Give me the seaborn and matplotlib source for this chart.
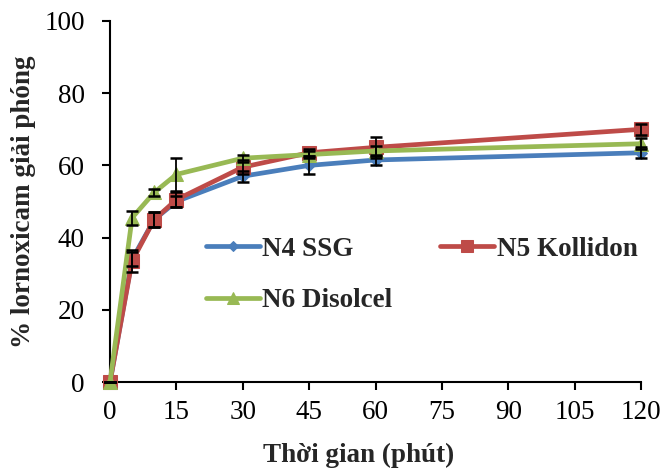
import numpy as np
import pandas as pd
import seaborn as sns
import matplotlib
matplotlib.use("Agg")
import matplotlib.pyplot as plt

sns.set_style("ticks")
plt.rcParams["font.family"] = ["Liberation Serif", "DejaVu Serif"]

time_min = [0, 5, 10, 15, 30, 45, 60, 120]
n4_ssg = [0, 34, 45, 50, 57, 60, 61.5, 63.5]
n4_err = [0, 2, 2, 1.5, 1.5, 2.5, 1.5, 1.5]
n5_kollidon = [0, 33.5, 45, 50.5, 59.5, 63.5, 65, 70]
n5_err = [0, 3, 2, 2, 2, 1, 3, 1.5]
n6_disolcel = [0, 45.5, 52.5, 57.5, 62, 63, 64, 66]
n6_err = [0, 2, 1, 4.5, 1, 1, 1.5, 1.5]

series = ["N4 SSG", "N5 Kollidon", "N6 Disolcel"]
colors = ["#4A7EBB", "#BE4B48", "#98B954"]
markers = ["D", "s", "^"]
msizes = [6, 10, 10]

data = pd.DataFrame({
    "time": time_min * 3,
    "value": n4_ssg + n5_kollidon + n6_disolcel,
    "err": n4_err + n5_err + n6_err,
    "series": [s for s in series for _ in time_min],
})

fs = 19.5
fig = plt.figure(figsize=(6.63, 4.69), dpi=100)
ax = fig.add_axes([110 / 663, 1 - 382 / 469, 531 / 663, 361 / 469])

for name, c, m, ms in zip(series, colors, markers, msizes):
    d = data[data["series"] == name]
    sns.lineplot(x="time", y="value", data=d, ax=ax, color=c, marker=m,
                 markersize=ms, markeredgecolor=c, linewidth=3.4,
                 clip_on=False, zorder=3, label=name)
    ax.errorbar(d["time"], d["value"], yerr=d["err"], fmt="none",
                ecolor="black", elinewidth=1.3, capsize=4, capthick=1.8,
                zorder=4, clip_on=False)

ax.set_xlim(0, 120)
ax.set_ylim(0, 100)
ax.set_xticks(np.arange(0, 121, 15))
ax.set_yticks(np.arange(0, 101, 20))
ax.tick_params(axis="both", labelsize=fs, length=6, width=1.5, color="black",
               labelcolor="black", direction="out")
ax.tick_params(axis="x", pad=7)
ax.tick_params(axis="y", pad=12)
for s in ["top", "right"]:
    ax.spines[s].set_visible(False)
for s in ["left", "bottom"]:
    ax.spines[s].set_linewidth(1.5)
    ax.spines[s].set_color("black")

ax.set_xlabel("Thời gian (phút)", fontsize=fs, fontweight="bold")
ax.set_ylabel("% lornoxicam giải phóng", fontsize=fs, fontweight="bold")
ax.xaxis.set_label_coords(0.469, -0.168)
ax.yaxis.set_label_coords(-0.14, 0.5)

h, l = ax.get_legend_handles_labels()
order = [0, 2, 1]
leg = ax.legend([h[i] for i in order], [l[i] for i in order], ncol=2,
                frameon=False, loc="upper left", bbox_to_anchor=(0.134, 0.47),
                prop={"size": fs, "weight": "bold"}, handlelength=2.0,
                handletextpad=0.1, columnspacing=1.75, labelspacing=0.98,
                markerscale=0.8)

fig.savefig("out.png", dpi=100)
